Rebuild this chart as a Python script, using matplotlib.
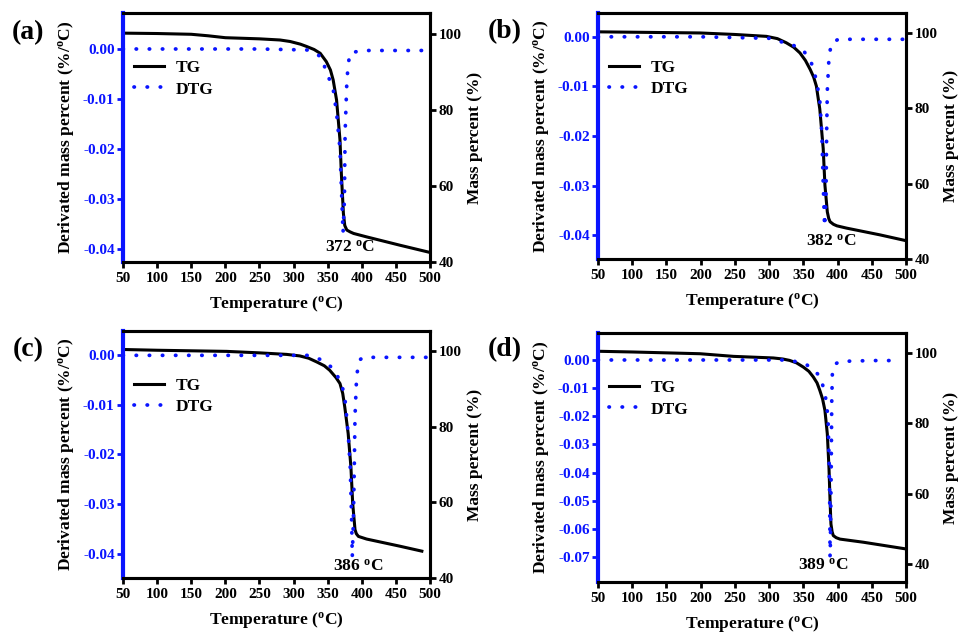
import numpy as np
import matplotlib
matplotlib.use('Agg')
import matplotlib.pyplot as plt

plt.rcParams['font.family'] = 'Liberation Serif'
plt.rcParams['font.weight'] = 'bold'
plt.rcParams['axes.labelweight'] = 'bold'
plt.rcParams['axes.unicode_minus'] = False
plt.rcParams['mathtext.fontset'] = 'custom'
plt.rcParams['mathtext.rm'] = 'Liberation Serif:bold'
plt.rcParams['mathtext.it'] = 'Liberation Serif:bold'
plt.rcParams['mathtext.bf'] = 'Liberation Serif:bold'

# (a)
temp_tg_a = [50, 100, 150, 175, 200, 250, 280, 295, 310, 319, 330, 339, 348, 354, 358, 363, 368, 370, 373, 375, 378, 383, 388, 407, 456, 500]
tg_a = [100.2, 100.1, 99.9, 99.5, 99.0, 98.7, 98.4, 98.0, 97.3, 96.7, 95.9, 94.9, 92.7, 90.5, 87.9, 82.6, 72.1, 63.3, 52.8, 49.6, 48.4, 47.9, 47.5, 46.6, 44.4, 42.5]
temp_dtg_a = [50, 150, 250, 320, 340, 348, 358, 363, 368, 370, 372.5, 374.5, 375.5, 378, 380, 383, 400, 450, 500]
dtg_a = [0.0, 0.0, 0.0, -0.0002, -0.0015, -0.0045, -0.008, -0.0128, -0.020, -0.0275, -0.0368, -0.030, -0.0168, -0.0068, -0.003, -0.0008, -0.0003, -0.0003, -0.0003]

# (b)
temp_tg_b = [50, 100, 199, 250, 296, 312, 325, 336, 345, 353, 360, 365, 369, 374, 379, 381.5, 385, 387, 389, 394, 399, 413, 462, 499]
tg_b = [100.3, 100.2, 100.0, 99.6, 99.1, 98.5, 97.4, 96.2, 94.7, 92.7, 90.3, 88.3, 85.9, 79.8, 69.3, 59.6, 52.5, 50.8, 49.9, 49.2, 48.8, 48.2, 46.4, 44.9]
temp_dtg_b = [50, 200, 300, 335, 350, 362, 369, 374, 377, 379, 381, 383, 384, 385, 387.5, 391, 401, 450, 500]
dtg_b = [0.0, 0.0, -0.0003, -0.0017, -0.0027, -0.0054, -0.0087, -0.0128, -0.0195, -0.0296, -0.0383, -0.033, -0.0195, -0.0108, -0.004, -0.0013, -0.0005, -0.0005, -0.0005]

# (c)
temp_tg_c = [50, 100, 202, 251, 290, 309, 322, 334, 345, 353, 362, 368, 372, 375, 380, 384, 386.6, 390, 392, 395, 407, 456, 488]
tg_c = [100.4, 100.2, 99.9, 99.5, 99.1, 98.7, 98.1, 97.1, 96.1, 94.9, 93.0, 91.4, 88.8, 85.2, 78.2, 69.4, 59.8, 52.8, 51.7, 51.0, 50.3, 48.4, 47.1]
temp_dtg_c = [50, 200, 320, 339, 358, 370, 375, 380, 383, 385, 386, 387.5, 389, 390, 392.5, 397, 402, 450, 500]
dtg_c = [-0.0001, -0.0001, -0.0001, -0.0009, -0.0027, -0.0057, -0.0084, -0.0158, -0.0225, -0.0326, -0.0406, -0.034, -0.0225, -0.0124, -0.004, -0.001, -0.0005, -0.0005, -0.0005]

# (d)
temp_tg_d = [50, 100, 199, 248, 306, 320, 330, 340, 350, 358, 364.5, 370, 374, 378, 381.5, 385, 387.4, 389, 390.3, 392, 393.7, 398, 403.5, 438, 500]
tg_d = [100.5, 100.3, 99.8, 99.05, 98.6, 98.3, 97.9, 97.2, 96.0, 94.8, 93.2, 91.5, 89.4, 87.0, 83.7, 77.0, 67.5, 58.0, 51.4, 49.2, 48.1, 47.5, 47.1, 46.2, 44.3]
temp_dtg_d = [50, 200, 330, 355, 374, 381.5, 386, 387.5, 388.5, 389, 389.5, 390.7, 391.5, 392.4, 396, 403.5, 450, 482]
dtg_d = [0.0, 0.0, 0.0, -0.0017, -0.0056, -0.0115, -0.0203, -0.0345, -0.05, -0.07, -0.065, -0.038, -0.0144, -0.0044, -0.0015, -0.0005, -0.0002, -0.0002]

peak_labels = ['372 $^\\mathrm{o}$C', '382 $^\\mathrm{o}$C', '386 $^\\mathrm{o}$C', '389 $^\\mathrm{o}$C']
panel_names = ['(a)', '(b)', '(c)', '(d)']
temp_ticks = [50, 100, 150, 200, 250, 300, 350, 400, 450, 500]
mass_ticks = [40, 60, 80, 100]

panels = [
    dict(tg_x=temp_tg_a, tg=tg_a, dtg_x=temp_dtg_a, dtg=dtg_a,
         rect=[0.128, 0.5868, 0.3195, 0.3927], ylim=(-0.0426, 0.0072), y2lim=(40, 105.5),
         dticks=[0.0, -0.01, -0.02, -0.03, -0.04], txt=(382.6, -0.0398)),
    dict(tg_x=temp_tg_b, tg=tg_b, dtg_x=temp_dtg_b, dtg=dtg_b,
         rect=[0.6223, 0.5915, 0.3205, 0.388], ylim=(-0.0448, 0.0048), y2lim=(40, 105.3),
         dticks=[0.0, -0.01, -0.02, -0.03, -0.04], txt=(391, -0.0413)),
    dict(tg_x=temp_tg_c, tg=tg_c, dtg_x=temp_dtg_c, dtg=dtg_c,
         rect=[0.128, 0.0883, 0.3195, 0.3897], ylim=(-0.0448, 0.0048), y2lim=(40, 105.3),
         dticks=[0.0, -0.01, -0.02, -0.03, -0.04], txt=(395, -0.0425)),
    dict(tg_x=temp_tg_d, tg=tg_d, dtg_x=temp_dtg_d, dtg=dtg_d,
         rect=[0.6223, 0.082, 0.3205, 0.3928], ylim=(-0.0789, 0.0096), y2lim=(34.9, 105.7),
         dticks=[0.0, -0.01, -0.02, -0.03, -0.04, -0.05, -0.06, -0.07], txt=(379, -0.0729)),
]
label_pos = [(0.029, 0.948), (0.525, 0.95), (0.029, 0.448), (0.525, 0.448)]

fig = plt.figure(figsize=(9.61, 6.34), dpi=100)
blue = '#0a14ff'

for i, p in enumerate(panels):
    ax = fig.add_axes(p['rect'])
    ax2 = ax.twinx()
    # DTG above TG
    ax.set_zorder(ax2.get_zorder() + 1)
    ax.patch.set_visible(False)

    l2, = ax2.plot(p['tg_x'], p['tg'], color='black', lw=2.2, label='TG')
    l1, = ax.plot(p['dtg_x'], p['dtg'], color=blue, lw=2.7, linestyle=(0, (0.1, 3.4)),
                  dash_capstyle='round', label='DTG')

    ax.set_xlim(50, 500)
    ax.set_ylim(*p['ylim'])
    ax2.set_ylim(*p['y2lim'])
    ax.set_xticks(temp_ticks)
    ax.set_yticks(p['dticks'])
    ax.set_yticklabels(['%.2f' % v for v in p['dticks']])
    ax2.set_yticks(mass_ticks)

    for a in (ax, ax2):
        for s in a.spines.values():
            s.set_linewidth(2.2)
            s.set_color('black')
    ax.spines['left'].set_color(blue)
    ax.spines['left'].set_linewidth(3)
    ax2.spines['left'].set_visible(False)

    ax.tick_params(axis='x', direction='out', length=4, width=2, labelsize=11, pad=3)
    ax.tick_params(axis='y', direction='out', length=4, width=2, color=blue,
                   labelcolor=blue, labelsize=11, pad=2)
    ax2.tick_params(axis='y', direction='out', length=4, width=2, labelsize=11, pad=2)

    ax.set_xlabel('Temperature ($^\\mathrm{o}$C)', fontsize=12.5, labelpad=7)
    ax.set_ylabel('Derivated mass percent (%/$^\\mathrm{o}$C)', fontsize=12.5, labelpad=5)
    ax2.set_ylabel('Mass percent (%)', fontsize=12.5, labelpad=4)

    ax.text(p['txt'][0], p['txt'][1], peak_labels[i], ha='center', va='center', fontsize=12.5)

    ax.legend([l2, l1], ['TG', 'DTG'], loc='upper left', bbox_to_anchor=(-0.005, 0.86),
              frameon=False, fontsize=12.5, handlelength=1.75, handletextpad=0.7,
              labelspacing=0.3, borderaxespad=0.3)

    fig.text(label_pos[i][0], label_pos[i][1], panel_names[i], ha='center', va='center',
             fontsize=20, fontweight='bold')

fig.savefig('out.png', dpi=100)
